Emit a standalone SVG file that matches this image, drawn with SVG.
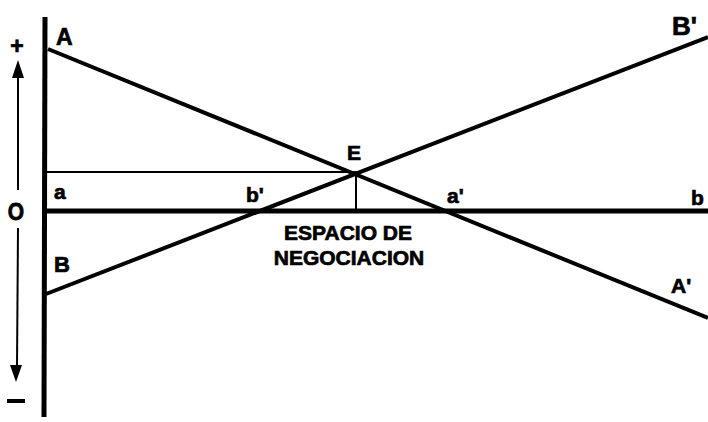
<svg xmlns="http://www.w3.org/2000/svg" width="708" height="422" viewBox="0 0 708 422">
<style>
text{font-family:"Liberation Sans",Arial,sans-serif;font-weight:bold;fill:#000;stroke:#000;stroke-width:0.7}
.thick{stroke:#000;stroke-width:5;fill:none;stroke-linecap:butt}
.mid{stroke:#000;stroke-width:4;fill:none}
.thin{stroke:#000;stroke-width:2;fill:none}
</style>
<rect width="708" height="422" fill="#fff"/>
<g id="axes">
<line class="thick" x1="45" y1="17" x2="44" y2="417"/>
<line class="thick" x1="45" y1="211" x2="708" y2="211"/>
</g>
<g id="scale">
<line class="thin" x1="18" y1="76" x2="18" y2="190"/>
<line class="thin" x1="18" y1="228" x2="17" y2="367"/>
<polygon points="18,60 12,78 24,78"/>
<polygon points="16,382 10,365 22,365"/>
<text x="17" y="54" font-size="23" text-anchor="middle">+</text>
<text x="16" y="219" font-size="21" text-anchor="middle" transform="translate(16 211) scale(1 1.15) translate(-16 -211)">O</text>
<rect x="7" y="399" width="18" height="4"/>
</g>
<g id="connectors">
<line class="mid" x1="48" y1="49" x2="708" y2="318"/>
<line class="mid" x1="46" y1="294" x2="708" y2="37"/>
<line class="thin" x1="45" y1="172" x2="357" y2="172"/>
<line class="thin" x1="356" y1="173" x2="356" y2="211"/>
</g>
<g id="labels">
<text x="56" y="45" font-size="23">A</text>
<text x="672" y="35" font-size="26">B'</text>
<text x="347" y="160" font-size="21">E</text>
<text x="54" y="199" font-size="21">a</text>
<text x="246" y="202" font-size="21">b'</text>
<text x="447" y="203" font-size="21">a'</text>
<text x="691" y="205" font-size="21">b</text>
<text x="54" y="272" font-size="22">B</text>
<text x="671" y="293" font-size="21">A'</text>
<text x="348" y="240" font-size="21" text-anchor="middle">ESPACIO DE</text>
<text x="349" y="265" font-size="21" text-anchor="middle">NEGOCIACION</text>
</g>
</svg>
